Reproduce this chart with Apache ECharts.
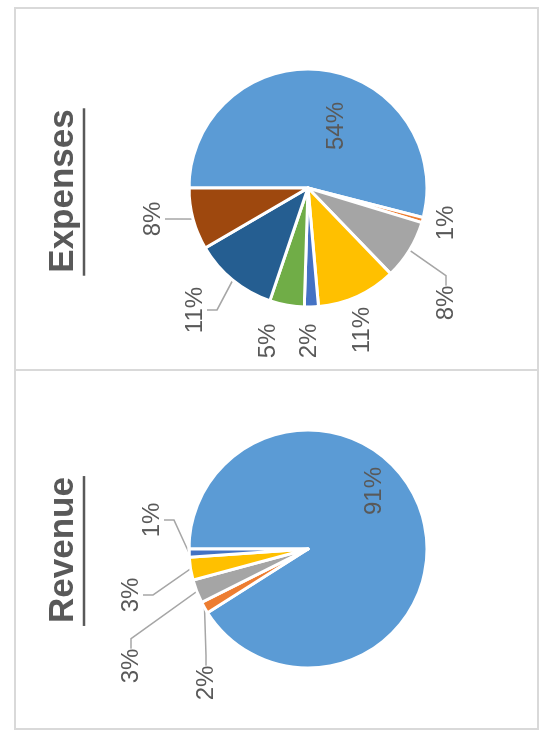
<!DOCTYPE html>
<html><head><meta charset="utf-8">
<script src="https://cdn.jsdelivr.net/npm/echarts@6/dist/echarts.min.js"></script>
<style>
html,body{margin:0;padding:0;width:540px;height:736px;overflow:hidden;background:#fff}
#chart{position:absolute;left:0;top:0;width:736px;height:540px;transform-origin:0 0;transform:translate(0,736px) rotate(-90deg);}
</style></head><body><div id="chart"></div>
<script>
// ---- data ----
const panelTitles = ['Revenue', 'Expenses'];
const revenueCategories = ['Revenue 1', 'Revenue 2', 'Revenue 3', 'Revenue 4', 'Revenue 5'];
const revenueValues = [91.0, 1.6, 3.2, 3.1, 1.1];
const expenseCategories = ['Expense 1', 'Expense 2', 'Expense 3', 'Expense 4', 'Expense 5', 'Expense 6', 'Expense 7', 'Expense 8'];
const expenseValues = [54.0, 0.7, 8.1, 10.8, 1.9, 4.7, 11.4, 8.4];

// ---- styles / layout ----
const palette = ['#5B9BD5', '#ED7D31', '#A5A5A5', '#FFC000', '#4472C4', '#70AD47', '#255E91', '#9E480E'];
const textColor = '#595959';
const labelFont = 'Liberation Sans, Arial, sans-serif';
const titleFontSize = 35;
const pieRadius = 119;
const revenueCenter = [187, 308];
const expenseCenter = [548, 308];
// label placement (offset of label centre from pie centre), Excel "best fit" look
const revenueLabelOffsets = [[58, 66], [-134, -102], [-117, -177], [-46, -177], [29, -156]];
const expenseLabelOffsets = [[62, 28], [-35, 138], [-115, 138], [-142, 54], [-153, 1], [-153, -40], [-122, -113], [-31, -155]];
const revenueLeaders = [false, true, true, true, true];
const expenseLeaders = [false, false, true, false, false, false, true, true];

function measure(text, font) {
  const c = document.createElement('canvas').getContext('2d');
  c.font = font;
  return c.measureText(text).width;
}

function buildData(names, values, leaders) {
  return names.map((n, i) => ({
    name: n,
    value: values[i],
    itemStyle: { color: palette[i] },
    label: i === 0 ? { position: 'inside' } : {},
    labelLine: { show: leaders[i] }
  }));
}

function pieSeries(names, values, center, offsets, leaders) {
  return {
    type: 'pie',
    center: center,
    radius: pieRadius,
    startAngle: 90,
    clockwise: true,
    percentPrecision: 0,
    avoidLabelOverlap: false,
    minShowLabelAngle: 0,
    itemStyle: { borderColor: '#ffffff', borderWidth: 3 },
    label: {
      show: true,
      formatter: '{d}%',
      color: textColor,
      fontFamily: labelFont,
      fontSize: 24
    },
    labelLine: {
      show: true,
      length: 10,
      length2: 10,
      smooth: false,
      lineStyle: { color: '#A6A6A6', width: 1.5 }
    },
    labelLayout: function (p) {
      const o = offsets[p.dataIndex];
      return { x: center[0] + o[0], y: center[1] + o[1], align: 'center', verticalAlign: 'middle' };
    },
    emphasis: { disabled: true },
    data: buildData(names, values, leaders)
  };
}

const titleCenters = [186, 545];
const graphics = [
  { type: 'rect', shape: { x: 7, y: 15, width: 721, height: 523 }, style: { fill: 'none', stroke: '#D9D9D9', lineWidth: 2 } },
  { type: 'line', shape: { x1: 366, y1: 15, x2: 366, y2: 538 }, style: { stroke: '#D9D9D9', lineWidth: 2 } }
];
panelTitles.forEach((t, i) => {
  const font = 'bold ' + titleFontSize + 'px ' + labelFont;
  const w = measure(t, font);
  graphics.push({
    type: 'text', x: titleCenters[i], y: 46,
    style: { text: t, fill: textColor, font: font, align: 'center', verticalAlign: 'top' }
  });
  graphics.push({
    type: 'line',
    shape: { x1: titleCenters[i] - w / 2 - 3, y1: 84, x2: titleCenters[i] + w / 2 + 1, y2: 84 },
    style: { stroke: textColor, lineWidth: 2.5 }
  });
});

const chart = echarts.init(document.getElementById('chart'), null, { renderer: 'canvas' });
chart.setOption({
  animation: false,
  backgroundColor: '#ffffff',
  graphic: graphics,
  series: [
    pieSeries(revenueCategories, revenueValues, revenueCenter, revenueLabelOffsets, revenueLeaders),
    pieSeries(expenseCategories, expenseValues, expenseCenter, expenseLabelOffsets, expenseLeaders)
  ]
});
</script></body></html>
